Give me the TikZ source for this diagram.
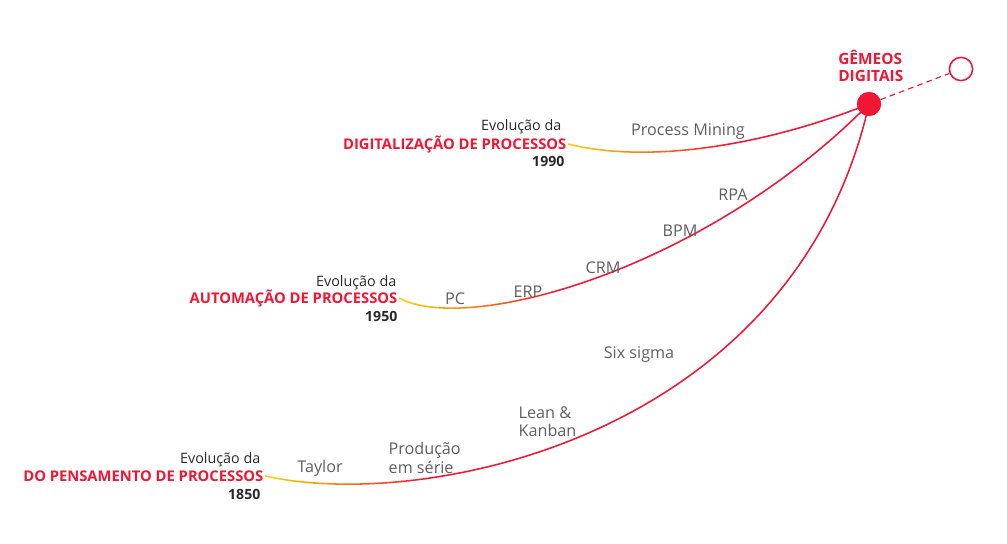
\documentclass[tikz,border=0pt]{standalone}
\usepackage{fontspec}
\setmainfont{Open Sans}
\usepackage{tikz}
\usetikzlibrary{calc}
\definecolor{twinred}{RGB}{240, 22, 52}
\definecolor{twinyellow}{RGB}{255, 208, 0}
\definecolor{itemgray}{RGB}{95, 95, 95}
\definecolor{textdark}{RGB}{40, 40, 40}

% curve that fades from yellow to red along x
\newcommand{\fadecurve}[2]{%
  \foreach \i in {0,...,19}{
    \pgfmathtruncatemacro{\mixval}{\i*5}
    \begin{scope}
      \clip ($(#1)+(\i*0.2,-15)$) rectangle ($(#1)+(\i*0.2+0.21,15)$);
      \draw[curve, draw=twinred!\mixval!twinyellow] (#1) #2;
    \end{scope}}
  \begin{scope}
    \clip ($(#1)+(4,-15)$) rectangle ($(#1)+(40,15)$);
    \draw[curve, draw=twinred] (#1) #2;
  \end{scope}}

\begin{document}
\begin{tikzpicture}[
    curve/.style={line width=1.1pt},
    title/.style={font=\fontsize{10.5}{12}\selectfont\bfseries, text=twinred, inner sep=1pt, anchor=east},
    evo/.style={font=\fontsize{10.2}{12}\selectfont, text=textdark, inner sep=1pt, anchor=east},
    year/.style={font=\fontsize{10}{12}\selectfont\bfseries, text=textdark, inner sep=1pt, anchor=east},
    item/.style={font=\fontsize{11.5}{13}\selectfont, text=itemgray, inner sep=1pt, align=left}
]
\useasboundingbox (0,0) rectangle (25.175,-13.6);

% twin endpoint
\node[circle, fill=twinred, minimum size=0.6cm, inner sep=0pt] (dot) at (21.725,-2.6) {};
\node[circle, draw=twinred, line width=1.1pt, minimum size=0.58cm, inner sep=0pt] (ring) at (24.025,-1.725) {};
\node[font=\fontsize{11}{12.5}\selectfont\bfseries, text=twinred, align=left, anchor=west, inner sep=0pt] (twins) at (20.95,-1.65) {GÊMEOS\\DIGITAIS};
\draw[twinred, line width=0.8pt, dashed, dash pattern=on 4pt off 3pt] (dot) -- (ring);

% three evolutions
\node[title] (t1) at (14.2,-3.6) {DIGITALIZAÇÃO DE PROCESSOS};
\node[evo] (e1) at (14.075,-3.175) {Evolução da};
\node[year] (y1) at (14.15,-4.025) {1990};

\node[title] (t2) at (9.975,-7.45) {AUTOMAÇÃO DE PROCESSOS};
\node[evo] (e2) at (9.95,-7.075) {Evolução da};
\node[year] (y2) at (9.975,-7.9) {1950};

\node[title] (t3) at (6.625,-11.9) {DO PENSAMENTO DE PROCESSOS};
\node[evo] (e3) at (6.55,-11.5) {Evolução da};
\node[year] (y3) at (6.55,-12.35) {1850};

\fadecurve{t1.east}{.. controls +(2,-0.5) and +(-2.625,-1.05) .. (dot.center)}
\fadecurve{t2.east}{.. controls +(1.7,-0.925) and +(-4.125,-4.175) .. (dot.center)}
\fadecurve{t3.east}{.. controls +(4.05,-0.9) and +(-1.875,-8.3) .. (dot.center)}

\node[circle, fill=twinred, minimum size=0.6cm, inner sep=0pt] at (dot) {};

% milestones
\node[item] (mining) at (17.2,-3.3) {Process Mining};
\node[item] (rpa) at (18.325,-4.875) {RPA};
\node[item] (bpm) at (17.0,-5.775) {BPM};
\node[item] (crm) at (15.075,-6.7) {CRM};
\node[item] (erp) at (13.2,-7.3) {ERP};
\node[item] (pc) at (11.375,-7.475) {PC};
\node[item] (sixsigma) at (15.975,-8.875) {Six sigma};
\node[item, anchor=west] (lean) at (12.925,-10.55) {Lean \&\\Kanban};
\node[item, anchor=west] (serie) at (9.675,-11.45) {Produção\\em série};
\node[item] (taylor) at (8.0,-11.7) {Taylor};

\end{tikzpicture}
\end{document}
